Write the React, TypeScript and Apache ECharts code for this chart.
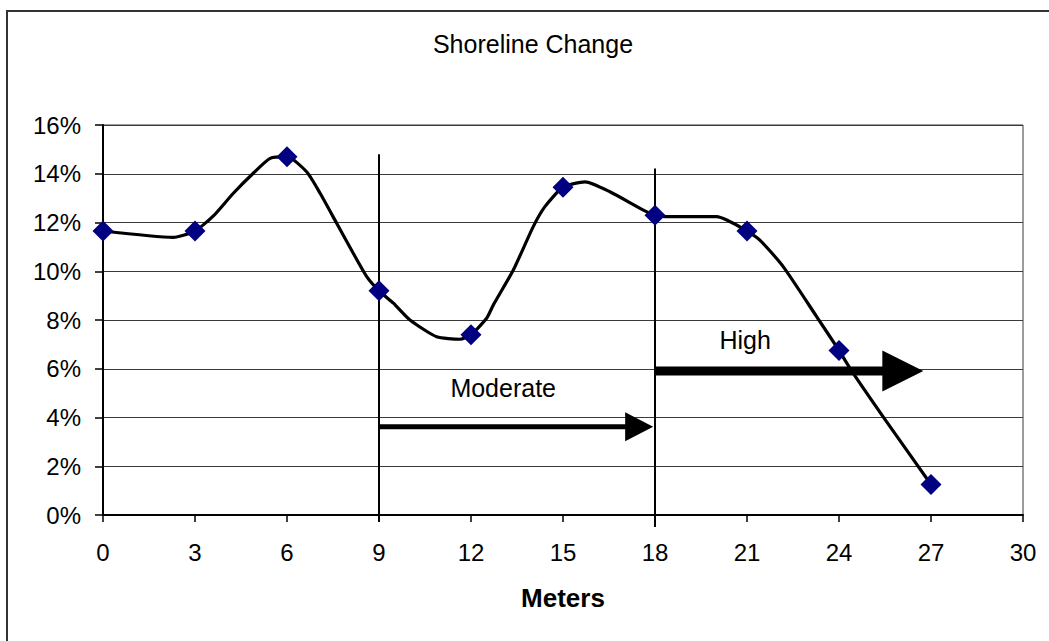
import React, { useEffect, useRef } from "react";
import * as echarts from "echarts";

// Survey stations along the shore (meters) and measured shoreline change (%)
const stations = [0, 3, 6, 9, 12, 15, 18, 21, 24, 27];
const changePct = [11.65, 11.65, 14.7, 9.2, 7.4, 13.45, 12.3, 11.65, 6.75, 1.25];

// Hand-drawn trend curve through the stations
const curveX = [0, 2.29, 3, 3.6, 4.25, 4.9, 5.45, 6, 6.64, 7.08, 7.62, 8.16, 8.6, 9, 9.47, 10.01, 10.88, 11.64, 12, 12.51, 12.73, 13.38, 14.03, 14.41, 15, 15.72, 16.53, 17.62, 18, 18.38, 20.01, 20.34, 21, 21.42, 22.18, 23.27, 24, 24.46, 25.55, 27];
const curveY = [11.65, 11.39, 11.65, 12.27, 13.2, 14.02, 14.63, 14.7, 14.08, 13.2, 11.97, 10.74, 9.78, 9.2, 8.69, 8.0, 7.31, 7.21, 7.4, 8.07, 8.62, 10.05, 11.83, 12.65, 13.45, 13.67, 13.26, 12.51, 12.3, 12.24, 12.24, 12.1, 11.65, 11.28, 10.19, 8.14, 6.75, 5.82, 3.83, 1.25];

// Risk zone boundaries (vertical lines)
const boundaryX = [9, 18];
const boundaryTop = [14.8, 14.22];
const boundaryBottom = [-0.29, -0.49];

// Risk zone arrows and their labels
const zoneNames = ["Moderate", "High"];
const arrowFrom = [9, 18];
const arrowTo = [17.94, 26.75];
const arrowLevel = [3.62, 5.91];
const labelX = [13.05, 20.94];
const labelY = [5.2, 7.16];

const yTicks = [0, 2, 4, 6, 8, 10, 12, 14, 16];
const xTicks = [0, 3, 6, 9, 12, 15, 18, 21, 24, 27, 30];

const FONT = '"Liberation Sans", Arial, sans-serif';

export default function App() {
  const ref = useRef<HTMLDivElement>(null);

  useEffect(() => {
    if (!ref.current) return;
    const chart = echarts.init(ref.current, null, { renderer: "svg" });

    const arrowShaft = [5, 9];
    const arrowHeadLen = [28, 41];
    const arrowHeadWidth = [29, 41];

    const boundarySeries = boundaryX.map((x, i) => ({
      type: "line",
      data: [
        [x, boundaryTop[i]],
        [x, boundaryBottom[i]],
      ],
      symbol: "none",
      clip: false,
      silent: true,
      z: 3,
      lineStyle: { color: "#000", width: 2 },
    }));

    chart.setOption({
      animation: false,
      backgroundColor: "#fff",
      textStyle: { fontFamily: FONT },
      grid: {
        left: 103,
        right: 26,
        top: 125,
        bottom: 126,
        show: true,
        borderColor: "#3a3a3a",
        borderWidth: 1,
        backgroundColor: "transparent",
      },
      graphic: [
        {
          type: "rect",
          shape: { x: 7, y: 11, width: 1100, height: 700 },
          style: { fill: "none", stroke: "#333", lineWidth: 2 },
          silent: true,
          z: -1,
        },
        {
          type: "text",
          x: 533,
          y: 44,
          style: {
            text: "Shoreline Change",
            font: `25px ${FONT}`,
            fill: "#000",
            align: "center",
            verticalAlign: "middle",
          },
        },
      ],
      xAxis: {
        type: "value",
        min: xTicks[0],
        max: xTicks[xTicks.length - 1],
        interval: 3,
        name: "Meters",
        nameLocation: "middle",
        nameGap: 70,
        nameTextStyle: { fontSize: 26, fontWeight: "bold", color: "#000", fontFamily: FONT },
        axisLine: { show: true, onZero: false, lineStyle: { color: "#000", width: 2 } },
        axisTick: { show: true, length: 7, lineStyle: { color: "#000", width: 1.5 } },
        axisLabel: { fontSize: 24, color: "#000", margin: 25, fontFamily: FONT },
        splitLine: { show: false },
      },
      yAxis: {
        type: "value",
        min: yTicks[0],
        max: yTicks[yTicks.length - 1],
        interval: 2,
        axisLine: { show: true, lineStyle: { color: "#000", width: 2 } },
        axisTick: { show: true, length: 8, lineStyle: { color: "#000", width: 1.5 } },
        axisLabel: {
          fontSize: 24,
          color: "#000",
          margin: 22,
          fontFamily: FONT,
          formatter: "{value}%",
        },
        splitLine: { show: true, lineStyle: { color: "#3a3a3a", width: 1 } },
      },
      series: [
        ...boundarySeries,
        {
          type: "line",
          data: curveX.map((x, i) => [x, curveY[i]]),
          symbol: "none",
          smooth: 0.2,
          z: 4,
          lineStyle: { color: "#000", width: 3.2 },
        },
        {
          type: "scatter",
          data: stations.map((x, i) => [x, changePct[i]]),
          symbol: "diamond",
          symbolSize: 21,
          z: 6,
          itemStyle: { color: "#000080", opacity: 1 },
        },
        {
          type: "custom",
          z: 5,
          data: zoneNames.map((_, i) => [arrowFrom[i], arrowTo[i], arrowLevel[i]]),
          renderItem: (params: any, api: any) => {
            const i = params.dataIndex;
            const start = api.coord([api.value(0), api.value(2)]);
            const tip = api.coord([api.value(1), api.value(2)]);
            const y = start[1];
            const s = arrowShaft[i] / 2;
            const hl = arrowHeadLen[i];
            const hw = arrowHeadWidth[i] / 2;
            const bx = tip[0] - hl;
            return {
              type: "polygon",
              shape: {
                points: [
                  [start[0], y - s],
                  [bx, y - s],
                  [bx, y - hw],
                  [tip[0], y],
                  [bx, y + hw],
                  [bx, y + s],
                  [start[0], y + s],
                ],
              },
              style: { fill: "#000" },
            };
          },
        },
        {
          type: "custom",
          z: 5,
          data: zoneNames.map((_, i) => [labelX[i], labelY[i]]),
          renderItem: (params: any, api: any) => {
            const p = api.coord([api.value(0), api.value(1)]);
            return {
              type: "text",
              x: p[0],
              y: p[1],
              style: {
                text: zoneNames[params.dataIndex],
                font: `25px ${FONT}`,
                fill: "#000",
                align: "center",
                verticalAlign: "middle",
              },
            };
          },
        },
      ],
    });

    return () => chart.dispose();
  }, []);

  return (
    <div
      ref={ref}
      style={{ position: "fixed", left: 0, top: 0, width: 1049, height: 641, background: "#fff" }}
    />
  );
}
